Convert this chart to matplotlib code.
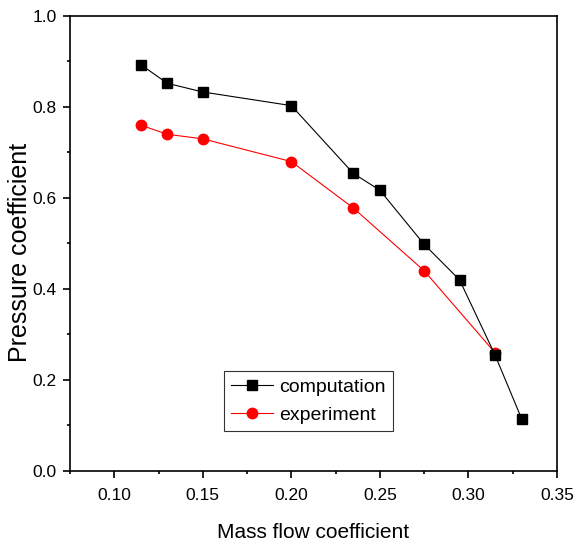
import matplotlib
matplotlib.use("Agg")
import matplotlib.pyplot as plt
from matplotlib.ticker import MultipleLocator, FormatStrFormatter

plt.rcParams['font.family'] = ['Liberation Sans', 'DejaVu Sans']

comp_x = [0.115, 0.13, 0.15, 0.20, 0.235, 0.25, 0.275, 0.295, 0.315, 0.33]
comp_y = [0.893, 0.852, 0.833, 0.803, 0.654, 0.617, 0.498, 0.42, 0.255, 0.115]
exp_x = [0.115, 0.13, 0.15, 0.20, 0.235, 0.275, 0.315]
exp_y = [0.760, 0.740, 0.730, 0.680, 0.578, 0.440, 0.260]

fig = plt.figure(figsize=(5.76, 5.46), dpi=100)
ax = fig.add_axes([0.1215, 0.1374, 0.8455, 0.8333])

ax.plot(exp_x, exp_y, color='red', marker='o', markersize=7.5, linewidth=0.8, label='experiment')
ax.plot(comp_x, comp_y, color='black', marker='s', markersize=7, linewidth=0.8, label='computation')

ax.set_xlim(0.075, 0.35)
ax.set_ylim(0.0, 1.0)
ax.xaxis.set_major_locator(MultipleLocator(0.05))
ax.xaxis.set_minor_locator(MultipleLocator(0.025))
ax.yaxis.set_major_locator(MultipleLocator(0.2))
ax.yaxis.set_minor_locator(MultipleLocator(0.1))
ax.tick_params(which='both', direction='out', top=False, right=False, width=1.2)
ax.tick_params(which='major', length=5, labelsize=12.5)
ax.tick_params(which='minor', length=2.5)
ax.tick_params(axis='x', which='major', pad=7)
ax.tick_params(axis='y', which='major', pad=4.5)
ax.xaxis.set_major_formatter(FormatStrFormatter('%.2f'))
ax.yaxis.set_major_formatter(FormatStrFormatter('%.1f'))
for s in ax.spines.values():
    s.set_linewidth(1.2)

ax.set_xlabel('Mass flow coefficient', fontsize=15, labelpad=15)
ax.set_ylabel('Pressure coefficient', fontsize=18)
ax.yaxis.set_label_coords(-0.077, 0.481)

handles, labels = ax.get_legend_handles_labels()
leg = ax.legend(handles[::-1], labels[::-1], loc='lower left', bbox_to_anchor=(0.316, 0.088),
                fontsize=14, frameon=True, fancybox=False, edgecolor='black',
                handlelength=2.2, borderpad=0.35, labelspacing=0.55, handletextpad=0.3,
                borderaxespad=0)
leg.get_frame().set_linewidth(0.8)

fig.savefig('out.png', dpi=100)
